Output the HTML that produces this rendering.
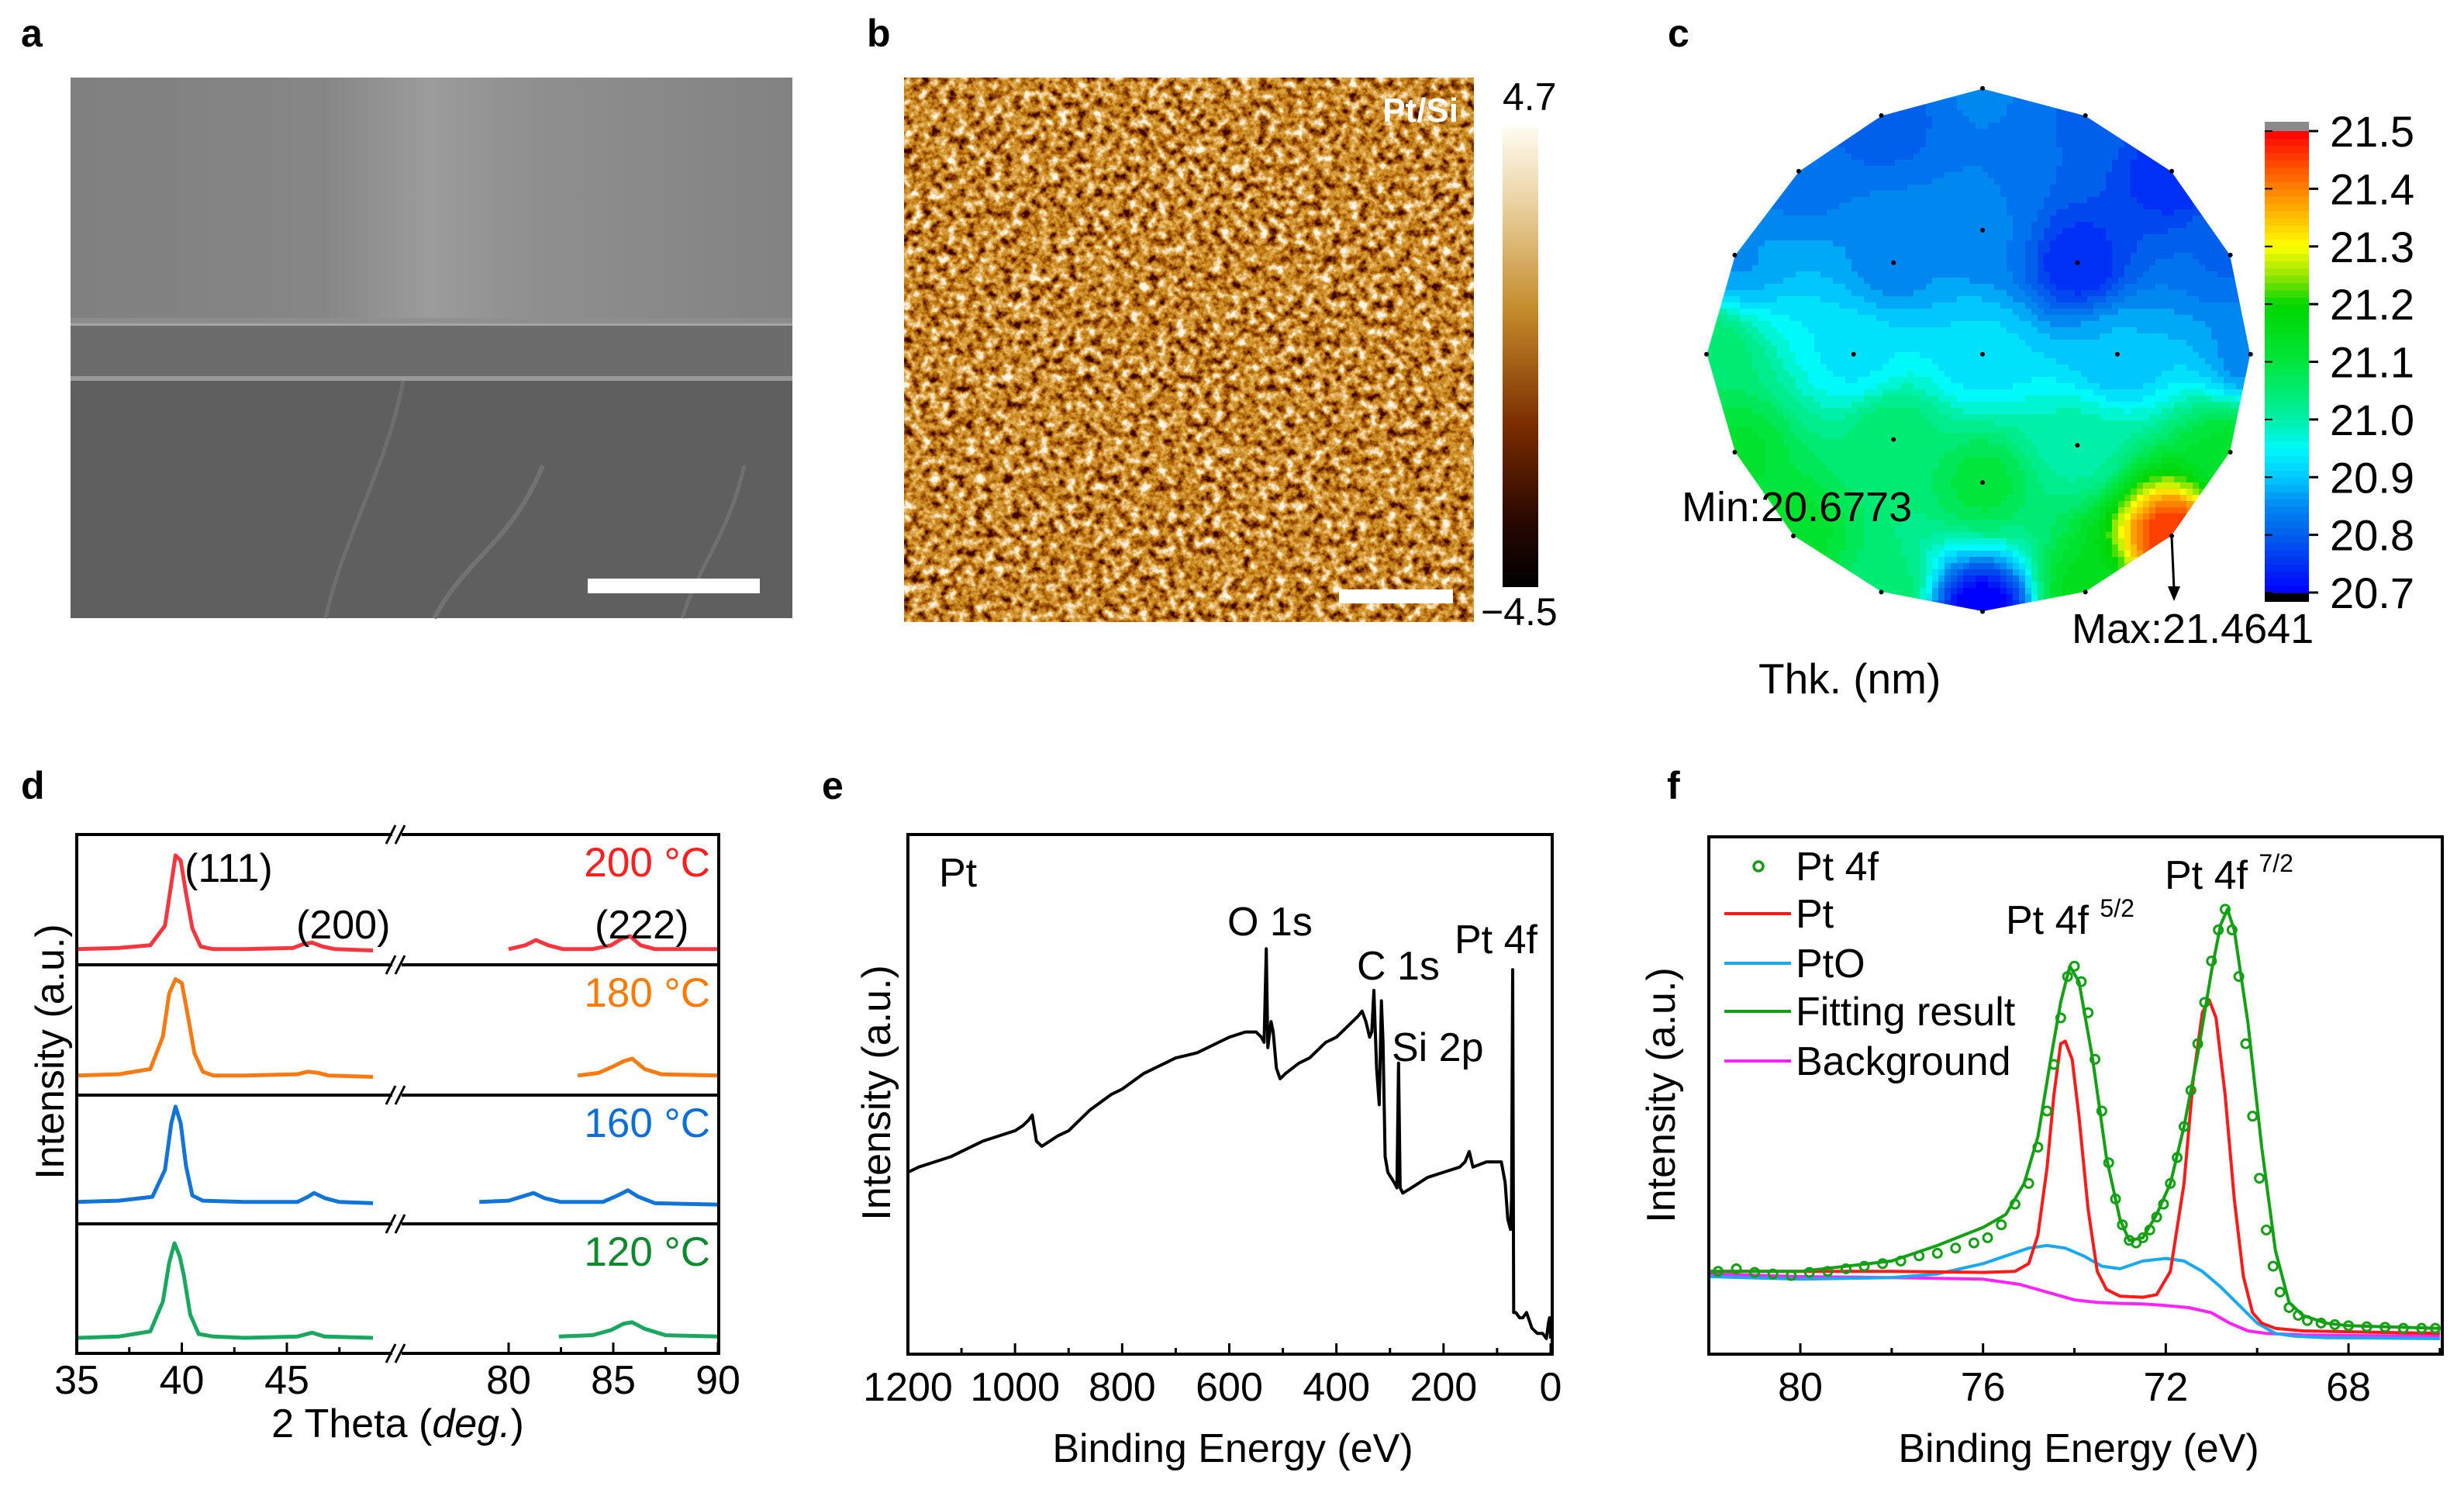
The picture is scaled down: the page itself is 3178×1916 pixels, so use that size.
<!DOCTYPE html>
<html><head><meta charset="utf-8"><style>
html,body{margin:0;padding:0;background:#fff;}
svg{display:block;font-family:"Liberation Sans",Arial,sans-serif;}
</style></head><body>
<svg id="fig" width="3178" height="1916" viewBox="0 0 3178 1916" xmlns="http://www.w3.org/2000/svg">
<defs>
  <linearGradient id="semTop" x1="0" y1="0" x2="1" y2="0">
    <stop offset="0" stop-color="#808080"/><stop offset="0.35" stop-color="#868686"/>
    <stop offset="0.5" stop-color="#9c9c9c"/><stop offset="0.62" stop-color="#909090"/>
    <stop offset="1" stop-color="#828282"/>
  </linearGradient>
  <linearGradient id="afmBar" x1="0" y1="0" x2="0" y2="1">
    <stop offset="0" stop-color="#fffbf0"/><stop offset="0.15" stop-color="#ecd6a8"/>
    <stop offset="0.4" stop-color="#c48a2a"/><stop offset="0.65" stop-color="#7a2c00"/>
    <stop offset="0.85" stop-color="#2a0800"/><stop offset="1" stop-color="#000"/>
  </linearGradient>
  <filter id="afmF" x="0" y="0" width="100%" height="100%">
    <feTurbulence type="fractalNoise" baseFrequency="0.085" numOctaves="3" seed="7"/>
    <feColorMatrix type="matrix" values="1.9 0 0 0 -0.45  1.9 0 0 0 -0.45  1.9 0 0 0 -0.45  0 0 0 0 1"/>
    <feComponentTransfer>
      <feFuncR type="table" tableValues="0.05 0.22 0.42 0.6 0.72 0.88 1"/>
      <feFuncG type="table" tableValues="0 0.04 0.12 0.26 0.38 0.62 0.92"/>
      <feFuncB type="table" tableValues="0 0 0 0.02 0.06 0.3 0.8"/>
    </feComponentTransfer>
  </filter>
  <clipPath id="waferClip"><polygon id="waferPolyClip" points=""/></clipPath>
</defs>

<text x="27" y="60" font-size="50" font-weight="bold">a</text>
<text x="1118" y="60" font-size="50" font-weight="bold">b</text>
<text x="2151" y="60" font-size="50" font-weight="bold">c</text>
<text x="27" y="1030" font-size="50" font-weight="bold">d</text>
<text x="1060" y="1030" font-size="50" font-weight="bold">e</text>
<text x="2150" y="1030" font-size="50" font-weight="bold">f</text>

<g>
  <rect x="91" y="100" width="931" height="317" fill="url(#semTop)"/>
  <rect x="91" y="410" width="931" height="12" fill="#8e8e8e" opacity="0.8"/>
  <rect x="91" y="420" width="931" height="66" fill="#6c6c6c"/>
  <rect x="91" y="485" width="931" height="6" fill="#999"/>
  <rect x="91" y="491" width="931" height="306" fill="#5f5f5f"/>
  <path d="M520 491 C500 600 440 700 420 797" stroke="#6e6e6e" stroke-width="5" fill="none"/>
  <path d="M700 600 C660 700 600 720 560 797" stroke="#727272" stroke-width="6" fill="none"/>
  <path d="M960 600 C940 690 900 730 880 797" stroke="#707070" stroke-width="5" fill="none"/>
  <rect x="758" y="746" width="222" height="19" fill="#fff"/>
</g>

<g>
  <rect x="1166" y="100" width="735" height="702" filter="url(#afmF)"/>
  <text x="1881" y="157" font-size="44" font-weight="bold" fill="#fff" text-anchor="end">Pt/Si</text>
  <rect x="1727" y="760" width="147" height="18" fill="#fff"/>
  <rect x="1938" y="165" width="46" height="592" fill="url(#afmBar)"/>
  <text x="1938" y="142" font-size="50">4.7</text>
  <text x="1910" y="806" font-size="50">−4.5</text>
</g>

<g id="panelC"></g>
<g id="panelD"></g>
<g id="panelE"></g>
<g id="panelF"></g>
</svg>

<script>
const NS = "http://www.w3.org/2000/svg";
function mk(parent, tag, attrs, text) {
  const el = document.createElementNS(NS, tag);
  for (const k in attrs) el.setAttribute(k, attrs[k]);
  if (text !== undefined) el.textContent = text;
  parent.appendChild(el);
  return el;
}

/* ---------------- Panel C data ---------------- */
const waferOuterX = [665,475,320,200,147,200,310,475,665,858,1020,1130,1168,1130,1020,858];
const waferOuterY = [195,255,378,563,782,998,1183,1307,1350,1307,1183,998,782,563,378,255];
const waferPtX = [665,475,858,320,1020,200,1130,147,1168,200,1130,310,1020,475,858,665, 665,498,843,423,665,918,498,843,665];
const waferPtY = [195,255,255,378,378,563,563,782,782,998,998,1183,1183,1307,1307,1350, 508,580,580,782,782,782,970,983,1065];
const waferVal = [20.84,20.79,20.81,20.82,20.74,20.86,20.81,21.06,20.85,21.12,21.12,21.13,21.46,21.06,21.15,20.68, 20.84,20.85,20.74,20.93,20.92,20.89,21.06,21.0,21.1];
const cbarTicks = ["21.5","21.4","21.3","21.2","21.1","21.0","20.9","20.8","20.7"];
const cbarVals = [21.5,21.4,21.3,21.2,21.1,21.0,20.9,20.8,20.7];
const cmapV = [20.70,20.80,20.85,20.90,20.95,21.00,21.10,21.20,21.25,21.30,21.40,21.50];
const cmapC = [[0,0,255],[0,95,235],[0,135,240],[0,200,255],[0,250,250],[0,240,170],[0,230,60],[0,215,0],[150,230,0],[255,255,0],[255,130,0],[255,0,0]];

/* ---------------- Panel D data ---------------- */
const xrdLabels = ["200 °C","180 °C","160 °C","120 °C"];
const xrdColors = ["#f5363f","#f77a12","#1273d8","#1aa860"];
const xrdLabelColors = ["#ff1f1f","#ff7a00","#0a6fd6","#0e8a2e"];
const xrdLeftX = [
  [35,37,38.5,39.2,39.5,39.7,39.95,40.2,40.5,40.9,41.5,43,45.3,45.8,46.2,46.7,47.3,49.1],
  [35,37,38.5,39.1,39.4,39.7,40.0,40.3,40.6,41.0,41.5,43,45.5,46.0,46.5,47.0,49.1],
  [35,37,38.6,39.2,39.5,39.7,39.95,40.2,40.5,41.0,43,45.5,46.0,46.3,46.8,47.5,49.1],
  [35,37,38.5,39.1,39.4,39.65,39.9,40.1,40.4,40.8,41.5,43,45.5,46.2,46.8,49.1]
];
const xrdLeftY = [
  [0.12,0.13,0.15,0.30,0.62,0.84,0.80,0.55,0.28,0.14,0.12,0.12,0.13,0.16,0.17,0.14,0.12,0.11],
  [0.15,0.16,0.20,0.45,0.78,0.89,0.86,0.60,0.32,0.18,0.15,0.15,0.16,0.18,0.17,0.15,0.14],
  [0.17,0.18,0.21,0.42,0.78,0.91,0.78,0.45,0.22,0.18,0.17,0.17,0.21,0.24,0.20,0.17,0.16],
  [0.12,0.13,0.17,0.40,0.70,0.85,0.75,0.60,0.30,0.15,0.13,0.12,0.13,0.16,0.13,0.12]
];
const xrdRightX = [
  [80,80.8,81.3,81.9,82.6,84,84.9,85.4,85.8,86.3,87,90],
  [83.3,84.3,85.0,85.5,85.9,86.5,87.3,90],
  [78.6,80,80.8,81.2,81.7,82.5,84.5,85.2,85.7,86.2,87,90],
  [82.4,84,84.9,85.5,85.9,86.5,87.5,90]
];
const xrdRightY = [
  [0.12,0.15,0.19,0.15,0.12,0.12,0.15,0.20,0.22,0.15,0.12,0.12],
  [0.15,0.17,0.22,0.26,0.28,0.20,0.16,0.15],
  [0.17,0.18,0.22,0.24,0.20,0.17,0.17,0.22,0.26,0.21,0.16,0.15],
  [0.13,0.14,0.18,0.23,0.24,0.19,0.14,0.13]
];
const xrdLeftTicks = [35,40,45];
const xrdRightTicks = [80,85,90];
const xrdLeftMinor = [37.5,42.5,47.5];
const xrdRightMinor = [82.5,87.5];

/* ---------------- Panel E data ---------------- */
const surveyBE = [1200,1180,1150,1120,1100,1060,1030,1000,985,975,968,960,950,920,900,860,820,800,760,720,700,660,620,600,570,550,540,535,531,528,522,518,512,505,495,470,450,420,400,380,360,352,345,338,334,330,325,320,316,313,309,304,298,292,287,284,281,276,260,230,200,170,160,152,145,120,100,92,85,80,75,73,71,69,65,58,52,45,35,25,15,8,4,2,0];
const surveyI = [0.35,0.36,0.37,0.38,0.39,0.41,0.42,0.43,0.44,0.45,0.46,0.41,0.40,0.42,0.43,0.47,0.50,0.51,0.54,0.56,0.57,0.58,0.60,0.61,0.62,0.62,0.61,0.60,0.78,0.59,0.64,0.62,0.55,0.53,0.54,0.56,0.57,0.60,0.61,0.63,0.65,0.66,0.64,0.61,0.62,0.70,0.55,0.48,0.68,0.60,0.38,0.35,0.34,0.33,0.32,0.56,0.32,0.31,0.32,0.34,0.35,0.36,0.37,0.39,0.36,0.37,0.37,0.37,0.33,0.26,0.24,0.30,0.74,0.08,0.08,0.07,0.07,0.08,0.05,0.04,0.04,0.03,0.06,0.07,0.03];
const surveyTicks = [1200,1000,800,600,400,200,0];
const surveyMinor = [1100,900,700,500,300,100];

/* ---------------- Panel F data ---------------- */
const pt4fX = [81.8,81.4,81,80.6,80.2,79.8,79.4,79,78.6,78.2,77.8,77.4,77,76.6,76.2,75.9,75.6,75.3,75.0,74.8,74.6,74.45,74.3,74.15,74.0,73.85,73.7,73.55,73.4,73.25,73.1,72.95,72.8,72.65,72.5,72.35,72.2,72.05,71.9,71.75,71.6,71.45,71.3,71.15,71.0,70.85,70.7,70.55,70.4,70.25,70.1,69.95,69.8,69.65,69.5,69.3,69.1,68.9,68.6,68.3,68.0,67.6,67.2,66.8,66.4,66.1];
const pt4fY = [0.16,0.165,0.158,0.155,0.152,0.158,0.16,0.165,0.17,0.175,0.18,0.19,0.195,0.205,0.215,0.225,0.25,0.29,0.33,0.40,0.47,0.56,0.65,0.73,0.75,0.72,0.66,0.57,0.47,0.37,0.30,0.25,0.22,0.215,0.225,0.24,0.265,0.29,0.33,0.38,0.44,0.51,0.60,0.68,0.76,0.82,0.86,0.82,0.73,0.60,0.46,0.34,0.24,0.17,0.12,0.09,0.075,0.065,0.06,0.057,0.055,0.053,0.052,0.05,0.05,0.05];
const fitX = [82,80,78,77,76,75.5,75.1,74.8,74.5,74.3,74.1,73.9,73.6,73.3,73.0,72.8,72.5,72.2,71.9,71.6,71.3,71.0,70.8,70.65,70.5,70.2,69.9,69.6,69.3,69.0,68.5,68,66];
const fitY = [0.16,0.16,0.18,0.21,0.245,0.27,0.33,0.42,0.58,0.68,0.75,0.72,0.57,0.38,0.26,0.22,0.225,0.27,0.33,0.44,0.58,0.74,0.83,0.86,0.82,0.64,0.40,0.20,0.10,0.075,0.06,0.055,0.05];
const ptX = [82,78,76,75.3,75.0,74.8,74.6,74.45,74.3,74.2,74.05,73.9,73.7,73.5,73.3,73.0,72.5,72.2,71.9,71.6,71.4,71.2,71.05,70.9,70.7,70.5,70.3,70.1,69.9,69.6,69,66];
const ptY = [0.16,0.16,0.158,0.16,0.175,0.23,0.36,0.50,0.60,0.605,0.57,0.46,0.28,0.16,0.125,0.112,0.11,0.115,0.16,0.33,0.53,0.66,0.685,0.65,0.50,0.30,0.15,0.08,0.06,0.05,0.045,0.04];
const ptoX = [82,80,78,77,76,75.5,75,74.6,74.2,73.8,73.4,73,72.5,72,71.6,71.2,70.8,70.4,70,69.6,69.2,68.5,66];
const ptoY = [0.15,0.145,0.148,0.155,0.175,0.19,0.205,0.21,0.205,0.19,0.17,0.165,0.18,0.185,0.18,0.16,0.13,0.095,0.06,0.04,0.035,0.032,0.03];
const bgX = [82,80,78,76,75.2,74.6,74,73.5,73,72.5,72,71.5,71,70.6,70.2,69.8,69,68,66];
const bgY = [0.155,0.15,0.148,0.145,0.135,0.12,0.105,0.1,0.098,0.097,0.094,0.09,0.08,0.06,0.045,0.04,0.037,0.036,0.035];
const xpsTicks = [80,76,72,68];
const xpsMinor = [82,78,74,70,66];
const legendNames = ["Pt 4f","Pt","PtO","Fitting result","Background"];
const legendColors = ["#11a011","#ff1a1a","#1aa8f0","#14a014","#ff22ff"];

/* ================= Panel C render ================= */
(function(){
  const g = document.getElementById('panelC');
  const ox = v => 2100 + v/1.455, oy = v => v/1.712;
  const pts = waferOuterX.map((x,i)=>ox(x).toFixed(1)+","+oy(waferOuterY[i]).toFixed(1)).join(" ");
  document.getElementById('waferPolyClip').setAttribute('points', pts);
  const px = waferPtX.map(ox), py = waferPtY.map(oy);
  function idw(x,y){
    let s=0,w=0;
    for(let i=0;i<px.length;i++){
      const d2=(x-px[i])**2+(y-py[i])**2+1;
      const wi=1/(d2*Math.sqrt(d2));
      s+=wi*waferVal[i]; w+=wi;
    }
    return s/w;
  }
  function cmap(v){
    if(v<=cmapV[0]) return cmapC[0];
    for(let i=1;i<cmapV.length;i++){
      if(v<=cmapV[i]){
        const t=(v-cmapV[i-1])/(cmapV[i]-cmapV[i-1]);
        return cmapC[i-1].map((c,k)=>Math.round(c+(cmapC[i][k]-c)*t));
      }
    }
    return cmapC[cmapC.length-1];
  }
  const heat = mk(g,'g',{'clip-path':'url(#waferClip)'});
  
  
  const step=8;
  for(let y=110;y<795;y+=step){
    for(let x=2196;x<2910;x+=step){
      const v = Math.round(idw(x+step/2,y+step/2)/0.025)*0.025;
      const c = cmap(v);
      mk(heat,'rect',{x:x,y:y,width:step+0.6,height:step+0.6,fill:`rgb(${c[0]},${c[1]},${c[2]})`});
    }
  }
  const poly = mk(g,'polygon',{points:pts,fill:'none',stroke:'#ffffff','stroke-width':1});
  
  
  for(let i=0;i<px.length;i++){
    const d = mk(g,'circle',{cx:px[i],cy:py[i],r:3,fill:'#000'});
    
    
  }
  const cbTop=169, cbBot=764, cbX=2921, cbW=57;
  const cy = v => cbBot - (v-20.7)/(0.8)*(cbBot-cbTop);
  const cb = mk(g,'g',{});
  
  
  mk(cb,'rect',{x:cbX,y:157,width:cbW,height:12,fill:'#8a8a8a'});
  mk(cb,'rect',{x:cbX,y:764,width:cbW,height:12,fill:'#000'});
  for(let v=20.7; v<21.5-0.001; v+=0.0125){
    const c=cmap(v+0.006);
    mk(cb,'rect',{x:cbX,y:cy(v+0.0125),width:cbW,height:(cbBot-cbTop)/64+0.7,fill:`rgb(${c[0]},${c[1]},${c[2]})`});
  }
  cbarVals.forEach((v,i)=>{
    const y=cy(v);
    mk(cb,'line',{x1:cbX+cbW,x2:cbX+cbW+12,y1:y,y2:y,stroke:'#000','stroke-width':3});
    mk(cb,'line',{x1:cbX,x2:cbX+10,y1:y,y2:y,stroke:'#000','stroke-width':2});
    const t = mk(cb,'text',{x:3005,y:y+20,'font-size':56},cbarTicks[i]);
    
    
  });
  const mn = mk(g,'text',{x:2169,y:672,'font-size':54},'Min:20.6773');
  
  
  const mx = mk(g,'text',{x:2672,y:829,'font-size':54},'Max:21.4641');
  
  
  const ar = mk(g,'path',{d:'M2801 692 L2804 760',stroke:'#000','stroke-width':3,fill:'none'});
  
  
  mk(g,'path',{d:'M2796 756 L2812 756 L2804 775 Z',fill:'#000'});
  const th = mk(g,'text',{x:2268,y:894,'font-size':55},'Thk. (nm)');
  
  
})();

/* ================= Panel D render ================= */
(function(){
  const g = document.getElementById('panelD');
  const L=99, R=927, top=1076, bot=1745;
  const divs=[1076,1244,1412,1578,1745];
  const xl = v => 99 + (v-35)*27.1;
  const xr = v => 656 + (v-80)*27.0;
  const brk = 512;
  for(let p=0;p<4;p++){
    const T=divs[p], B=divs[p+1];
    const yy = f => B - f*(B-T);
    const lp = xrdLeftX[p].map((x,i)=>xl(x).toFixed(1)+","+yy(xrdLeftY[p][i]).toFixed(1)).join(" ");
    const rp = xrdRightX[p].map((x,i)=>xr(x).toFixed(1)+","+yy(xrdRightY[p][i]).toFixed(1)).join(" ");
    const a = mk(g,'polyline',{points:lp,fill:'none',stroke:xrdColors[p],'stroke-width':5,'stroke-linejoin':'round'});
    
    
    const b = mk(g,'polyline',{points:rp,fill:'none',stroke:xrdColors[p],'stroke-width':5,'stroke-linejoin':'round'});
    
    
    const lb = mk(g,'text',{x:916,y:T+54,'font-size':53,'text-anchor':'end',fill:xrdLabelColors[p]},xrdLabels[p]);
    
    
  }
  const fr = mk(g,'rect',{x:L,y:top,width:R-L,height:bot-top,fill:'none',stroke:'#000','stroke-width':4});
  
  
  for(let i=1;i<4;i++) mk(g,'line',{x1:L,x2:R,y1:divs[i],y2:divs[i],stroke:'#000','stroke-width':4});
  divs.forEach(y=>{
    mk(g,'rect',{x:brk-6,y:y-5,width:12,height:10,fill:'#fff'});
    mk(g,'line',{x1:brk-14,y1:y+12,x2:brk-2,y2:y-12,stroke:'#000','stroke-width':3});
    mk(g,'line',{x1:brk-2,y1:y+12,x2:brk+10,y2:y-12,stroke:'#000','stroke-width':3});
  });
  const tick=(x,len)=>mk(g,'line',{x1:x,x2:x,y1:bot,y2:bot-len,stroke:'#000','stroke-width':3});
  xrdLeftTicks.forEach(v=>{tick(xl(v),14);
    const t=mk(g,'text',{x:xl(v),y:1797,'font-size':52,'text-anchor':'middle'},String(v));
     });
  xrdRightTicks.forEach(v=>{tick(xr(v),14);
    const t=mk(g,'text',{x:xr(v),y:1797,'font-size':52,'text-anchor':'middle'},String(v));
     });
  xrdLeftMinor.forEach(v=>tick(xl(v),8));
  xrdRightMinor.forEach(v=>tick(xr(v),8));
  const xt = mk(g,'text',{x:513,y:1853,'font-size':52,'text-anchor':'middle'});
   
  xt.innerHTML='2 Theta (<tspan font-style="italic">deg.</tspan>)';
  const yt = mk(g,'text',{x:0,y:0,'font-size':52,'text-anchor':'middle',transform:'translate(82 1356) rotate(-90)'},'Intensity (a.u.)');
   
  [["(111)",238,1137],["(200)",382,1210],["(222)",767,1210]].forEach(a=>{
    const t=mk(g,'text',{x:a[1],y:a[2],'font-size':52},a[0]);
     
  });
})();

/* ================= Panel E render ================= */
(function(){
  const g = document.getElementById('panelE');
  const L=1171,R=2002,T=1076,B=1746;
  const x = v => L + (1200-v)*(R-2-L)/1200;
  const y = f => B - f*(B-T);
  const pts = surveyBE.map((v,i)=>x(v).toFixed(1)+","+y(surveyI[i]).toFixed(1)).join(" ");
  const line = mk(g,'polyline',{points:pts,fill:'none',stroke:'#000','stroke-width':4,'stroke-linejoin':'round'});
  
  
  const fr = mk(g,'rect',{x:L,y:T,width:R-L,height:B-T,fill:'none',stroke:'#000','stroke-width':4});
   
  surveyTicks.forEach(v=>{
    mk(g,'line',{x1:x(v),x2:x(v),y1:B,y2:B-14,stroke:'#000','stroke-width':3});
    const t=mk(g,'text',{x:x(v),y:1806,'font-size':52,'text-anchor':'middle'},String(v));
     
  });
  surveyMinor.forEach(v=>mk(g,'line',{x1:x(v),x2:x(v),y1:B,y2:B-8,stroke:'#000','stroke-width':3}));
  const xt=mk(g,'text',{x:1590,y:1885,'font-size':52,'text-anchor':'middle'},'Binding Energy (eV)');
   
  const yt=mk(g,'text',{x:0,y:0,'font-size':52,'text-anchor':'middle',transform:'translate(1148 1409) rotate(-90)'},'Intensity (a.u.)');
   
  [["Pt",1211,1143],["O 1s",1583,1206],["C 1s",1750,1263],["Pt 4f",1876,1229],["Si 2p",1795,1368]].forEach(a=>{
    const t=mk(g,'text',{x:a[1],y:a[2],'font-size':52},a[0]);
     
  });
})();

/* ================= Panel F render ================= */
(function(){
  const g = document.getElementById('panelF');
  const L=2204,R=3150,T=1079,B=1746;
  const x = v => 2322 + (80-v)*58.92;
  const y = f => B - f*(B-T);
  const poly=(X,Y,col,name,w)=>{
    const p=mk(g,'polyline',{points:X.map((v,i)=>x(v).toFixed(1)+","+y(Y[i]).toFixed(1)).join(" "),fill:'none',stroke:col,'stroke-width':w,'stroke-linejoin':'round'});
     
  };
  poly(bgX,bgY,legendColors[4],'background-curve',4);
  poly(ptoX,ptoY,legendColors[2],'pto-curve',4);
  poly(ptX,ptY,legendColors[1],'pt-curve',4);
  poly(fitX,fitY,legendColors[3],'fitting-curve',4);
  pt4fX.forEach((v,i)=>{
    const c=mk(g,'circle',{cx:x(v),cy:y(pt4fY[i]),r:5.5,fill:'none',stroke:legendColors[0],'stroke-width':3});
     
  });
  const fr = mk(g,'rect',{x:L,y:T,width:R-L,height:B-T,fill:'none',stroke:'#000','stroke-width':4});
   
  xpsTicks.forEach(v=>{
    mk(g,'line',{x1:x(v),x2:x(v),y1:B,y2:B-14,stroke:'#000','stroke-width':3});
    const t=mk(g,'text',{x:x(v),y:1806,'font-size':52,'text-anchor':'middle'},String(v));
     
  });
  xpsMinor.forEach(v=>mk(g,'line',{x1:x(v),x2:x(v),y1:B,y2:B-8,stroke:'#000','stroke-width':3}));
  const xt=mk(g,'text',{x:2681,y:1885,'font-size':52,'text-anchor':'middle'},'Binding Energy (eV)');
   
  const yt=mk(g,'text',{x:0,y:0,'font-size':52,'text-anchor':'middle',transform:'translate(2160 1412) rotate(-90)'},'Intensity (a.u.)');
   
  const rows=[1117,1178,1242,1304,1368];
  legendNames.forEach((n,i)=>{
    const lg=mk(g,'g',{});
     
    if(i===0) mk(lg,'circle',{cx:2268,cy:rows[i],r:6,fill:'none',stroke:legendColors[0],'stroke-width':3.5});
    else mk(lg,'line',{x1:2224,x2:2310,y1:rows[i],y2:rows[i],stroke:legendColors[i],'stroke-width':4});
    mk(lg,'text',{x:2316,y:rows[i]+18,'font-size':52},n);
  });
  const a1=mk(g,'text',{x:2587,y:1204,'font-size':52});
   
  a1.innerHTML='Pt 4f <tspan font-size="32" dy="-22">5/2</tspan>';
  const a2=mk(g,'text',{x:2792,y:1146,'font-size':52});
   
  a2.innerHTML='Pt 4f <tspan font-size="32" dy="-22">7/2</tspan>';
})();
</script>
</body></html>
